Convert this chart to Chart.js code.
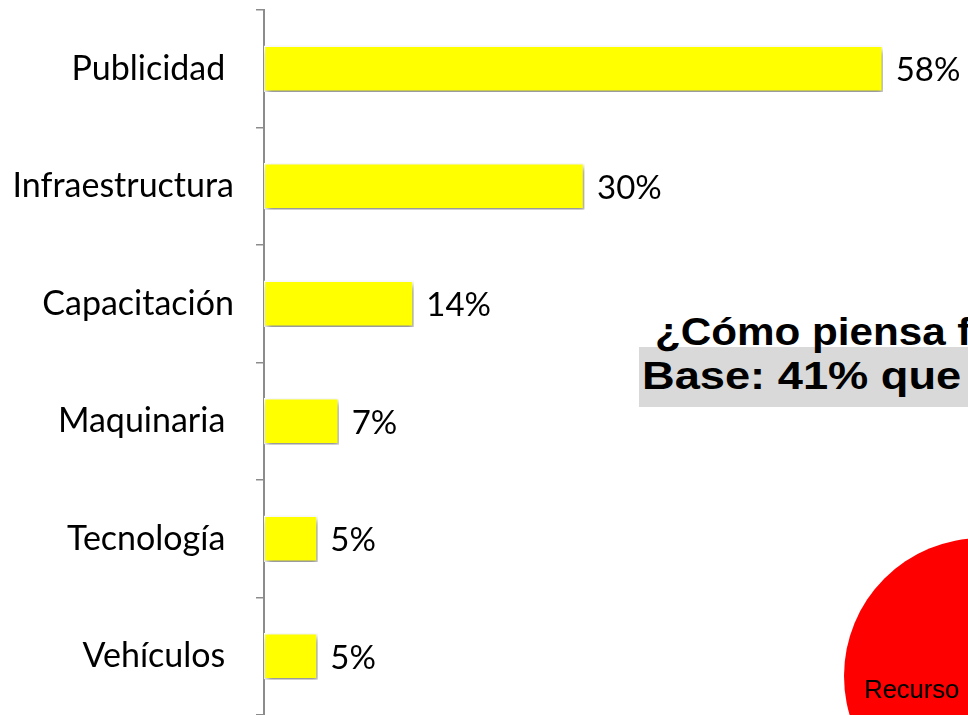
<!DOCTYPE html>
<html>
<head>
<meta charset="utf-8">
<script src="https://cdn.jsdelivr.net/npm/chart.js@4/dist/chart.umd.min.js"></script>
<style>
  html, body { margin: 0; padding: 0; background: #ffffff; }
  #wrap { position: relative; width: 968px; height: 715px; overflow: hidden; }
  #chart { position: absolute; left: 0; top: 0; }
  .t { position: absolute; font-family: "Liberation Sans", Arial, sans-serif; font-weight: bold; font-size: 38px; line-height: 1; color: #000; white-space: nowrap; transform-origin: left top; }
  .title1 { left: 655px; top: 313px; transform: scaleX(1.11); }
  .title2 { left: 642px; top: 357px; transform: scaleX(1.19); }
  .box { position: absolute; left: 639px; top: 347px; width: 340px; height: 60px; background: #d9d9d9; }
  .circle { position: absolute; left: 844px; top: 538px; width: 276px; height: 276px; border-radius: 50%; background: #ff0000; }
  .rec { position: absolute; left: 864px; top: 677px; font: 25.5px/1 "Liberation Sans", Arial, sans-serif; color: #000; white-space: nowrap; }
</style>
</head>
<body>
<div id="wrap">
  <div class="box"></div>
  <div class="t title1">¿Cómo piensa financiar</div>
  <div class="t title2">Base: 41% que invertirá</div>
  <div class="circle"></div>
  <div class="rec">Recurso</div>
  <canvas id="chart" width="968" height="715"></canvas>
</div>
<script>
const categories = ['Publicidad ', 'Infraestructura', 'Capacitación', 'Maquinaria ', 'Tecnología ', 'Vehículos '];
const values = [58, 30, 14, 7, 5, 5];
const valueLabels = ['58%', '30%', '14%', '7%', '5%', '5%'];

const FONT = 'Lato, "Open Sans", sans-serif';

const shadowPlugin = {
  id: 'barShadow',
  beforeDatasetsDraw(chart) {
    const ctx = chart.ctx;
    ctx.save();
    ctx.shadowColor = 'rgba(0,0,0,0.45)';
    ctx.shadowBlur = 6;
    ctx.shadowOffsetX = 2;
    ctx.shadowOffsetY = 4;
  },
  afterDatasetsDraw(chart) {
    chart.ctx.restore();
    const ctx = chart.ctx;
    const meta = chart.getDatasetMeta(0);
    ctx.save();
    ctx.fillStyle = '#000000';
    ctx.font = '33px ' + FONT;
    ctx.textAlign = 'left';
    ctx.textBaseline = 'middle';
    meta.data.forEach((bar, i) => {
      ctx.fillText(valueLabels[i], bar.x + 13, bar.y + 2);
    });
    ctx.restore();
  }
};

new Chart(document.getElementById('chart'), {
  type: 'bar',
  data: {
    labels: categories,
    datasets: [{
      data: values,
      backgroundColor: '#ffff00',
      borderColor: '#ffffff',
      borderWidth: 1.5,
      borderSkipped: false,
      barThickness: 46
    }]
  },
  options: {
    indexAxis: 'y',
    responsive: false,
    animation: false,
    layout: { padding: { top: 10, right: 0, bottom: 0, left: 0 } },
    plugins: { legend: { display: false }, tooltip: { enabled: false } },
    scales: {
      x: { display: false, min: 0, max: 66 },
      y: {
        afterFit(scale) { scale.width = 264; scale.paddingTop = 0; scale.paddingBottom = 0; },
        grid: { offset: true, drawOnChartArea: false, tickLength: 8, color: '#8c8c8c', lineWidth: 1.5 },
        border: { color: '#8c8c8c', width: 2 },
        ticks: { color: '#000000', padding: 22, font: { family: FONT, size: 34 } }
      }
    }
  },
  plugins: [shadowPlugin]
});
</script>
</body>
</html>
